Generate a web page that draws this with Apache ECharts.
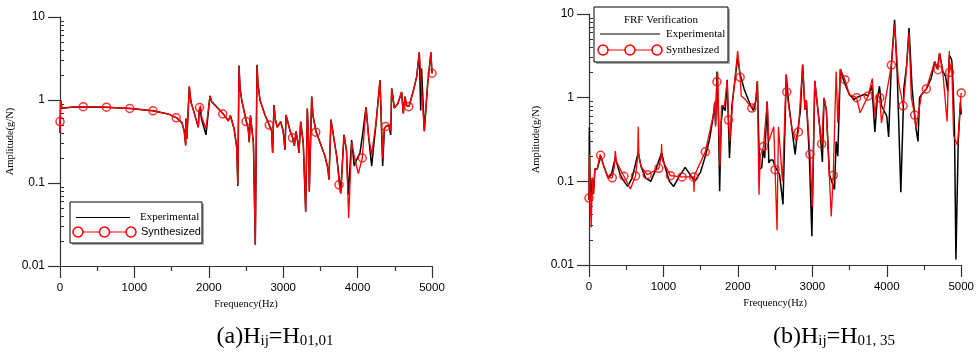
<!DOCTYPE html>
<html><head><meta charset="utf-8">
<script src="https://cdn.jsdelivr.net/npm/echarts@6/dist/echarts.min.js"></script>
<style>html,body{margin:0;padding:0;background:#fff}#c{width:977px;height:354px}</style>
</head><body><div id="c"></div>
<script>
// ---- data (frequency Hz, amplitude g/N) ----
const xTicks = [0, 1000, 2000, 3000, 4000, 5000];
const yTicks = [0.01, 0.1, 1, 10];
const yMinorTicks = [0.02,0.03,0.04,0.05,0.06,0.07,0.08,0.09,0.2,0.3,0.4,0.5,0.6,0.7,0.8,0.9,2,3,4,5,6,7,8,9];

const leftExperimental = [[0,0.40],[8,1.0],[25,0.80],[60,0.80],[150,0.82],[300,0.83],[600,0.82],[950,0.79],[1250,0.74],[1450,0.68],[1570,0.61],[1640,0.53],[1670,0.42],[1689,0.29],[1695,0.60],[1705,0.34],[1738,1.45],[1760,0.95],[1792,0.76],[1830,0.58],[1859,0.47],[1872,0.75],[1885,0.80],[1900,0.60],[1962,0.38],[2016,1.12],[2040,0.95],[2106,0.83],[2195,0.68],[2262,0.56],[2290,0.65],[2340,0.45],[2375,0.27],[2390,0.092],[2406,2.6],[2420,1.4],[2442,1.0],[2500,0.58],[2530,0.45],[2544,0.31],[2560,0.65],[2585,0.40],[2600,0.30],[2625,0.018],[2648,2.65],[2660,1.6],[2688,1.0],[2755,0.66],[2810,0.51],[2845,0.42],[2858,0.23],[2876,0.87],[2895,0.58],[2921,0.47],[2966,0.55],[3000,0.42],[3024,0.25],[3038,0.66],[3091,0.43],[3128,0.35],[3150,0.28],[3172,0.42],[3195,0.32],[3212,0.23],[3235,0.55],[3270,0.30],[3302,0.045],[3324,0.79],[3340,0.35],[3351,0.08],[3383,1.1],[3400,0.65],[3441,0.42],[3500,0.30],[3562,0.21],[3600,0.15],[3615,0.11],[3642,0.58],[3680,0.35],[3719,0.21],[3754,0.11],[3773,0.075],[3817,0.38],[3850,0.25],[3875,0.072],[3920,0.33],[3955,0.16],[3985,0.19],[4032,0.23],[4070,0.40],[4113,0.82],[4150,0.35],[4189,0.16],[4250,0.55],[4301,1.73],[4337,0.16],[4360,0.45],[4380,0.48],[4420,0.50],[4445,0.38],[4458,1.38],[4494,0.80],[4540,0.90],[4592,1.25],[4614,0.69],[4637,1.10],[4660,0.85],[4691,0.84],[4750,1.3],[4794,1.9],[4829,3.75],[4848,0.75],[4860,2.4],[4875,2.4],[4897,0.42],[4940,1.5],[4985,3.75],[5000,2.1]];

const leftSynthesized = [[0,0.40],[8,1.0],[25,0.80],[60,0.80],[150,0.82],[300,0.83],[600,0.82],[950,0.79],[1250,0.74],[1450,0.68],[1570,0.61],[1640,0.53],[1670,0.42],[1689,0.28],[1695,0.60],[1705,0.34],[1738,1.45],[1760,0.95],[1792,0.76],[1830,0.58],[1859,0.47],[1872,0.78],[1890,0.86],[1905,0.62],[1962,0.45],[2016,1.12],[2040,0.95],[2106,0.82],[2195,0.68],[2262,0.56],[2290,0.65],[2340,0.45],[2375,0.27],[2390,0.095],[2406,2.55],[2420,1.4],[2442,1.0],[2500,0.56],[2530,0.45],[2544,0.31],[2560,0.65],[2585,0.40],[2600,0.30],[2625,0.018],[2648,2.6],[2660,1.6],[2688,1.0],[2755,0.66],[2810,0.50],[2845,0.42],[2858,0.23],[2876,0.87],[2895,0.58],[2921,0.47],[2966,0.55],[3000,0.42],[3024,0.25],[3038,0.66],[3091,0.43],[3128,0.35],[3150,0.28],[3172,0.42],[3195,0.32],[3212,0.23],[3235,0.55],[3270,0.30],[3302,0.046],[3324,0.79],[3340,0.35],[3351,0.078],[3383,1.1],[3400,0.65],[3441,0.41],[3500,0.30],[3562,0.21],[3600,0.15],[3615,0.11],[3642,0.58],[3680,0.35],[3719,0.21],[3754,0.095],[3773,0.075],[3817,0.38],[3850,0.25],[3880,0.038],[3920,0.31],[3960,0.2],[4010,0.13],[4063,0.20],[4113,0.82],[4150,0.35],[4189,0.22],[4250,0.55],[4301,1.73],[4337,0.2],[4360,0.45],[4377,0.48],[4420,0.50],[4445,0.42],[4458,1.38],[4494,0.80],[4540,0.90],[4592,1.25],[4614,0.69],[4637,1.10],[4660,0.85],[4691,0.83],[4750,1.3],[4794,1.9],[4829,3.75],[4897,0.42],[4940,1.5],[4985,3.75],[5000,2.1]];

const leftMarkers = [[0,0.55],[312.5,0.83],[625,0.82],[937.5,0.79],[1250,0.74],[1562.5,0.61],[1875,0.81],[2187.5,0.68],[2500,0.55],[2812.5,0.50],[3125,0.35],[3437.5,0.41],[3750,0.095],[4062.5,0.20],[4375,0.48],[4687.5,0.83],[5000,2.1]];

const rightExperimental = [[0,0.06],[5,0.44],[15,0.08],[22,0.06],[44,0.11],[60,0.07],[79,0.14],[110,0.14],[159,0.20],[200,0.15],[256,0.11],[300,0.12],[353,0.19],[420,0.12],[470,0.10],[520,0.087],[580,0.11],[630,0.17],[661,0.22],[700,0.15],[760,0.11],[829,0.10],[900,0.14],[975,0.22],[1020,0.15],[1080,0.10],[1138,0.087],[1200,0.11],[1292,0.147],[1360,0.12],[1420,0.10],[1446,0.10],[1500,0.13],[1570,0.21],[1620,0.32],[1670,0.6],[1689,0.86],[1700,0.47],[1720,2.06],[1740,0.5],[1755,0.076],[1775,0.5],[1799,0.79],[1830,0.7],[1856,1.64],[1887,0.19],[1920,0.8],[1960,1.6],[1997,3.0],[2030,1.9],[2086,1.25],[2174,0.79],[2210,0.70],[2240,0.9],[2262,1.57],[2290,0.14],[2319,0.145],[2341,0.24],[2360,0.19],[2394,0.9],[2416,0.166],[2440,0.18],[2470,0.18],[2500,0.15],[2560,0.12],[2606,0.053],[2650,1.88],[2680,0.9],[2725,0.43],[2769,0.21],[2800,0.38],[2840,0.7],[2870,2.48],[2901,0.72],[2920,0.93],[2960,0.2],[2994,0.022],[3033,1.57],[3099,0.45],[3135,0.17],[3157,0.99],[3188,0.72],[3230,0.12],[3298,0.08],[3320,0.3],[3342,0.2],[3377,2.2],[3420,1.6],[3497,1.09],[3560,0.95],[3594,1.0],[3700,1.1],[3750,1.05],[3800,1.4],[3840,0.39],[3870,0.9],[3902,1.37],[3930,0.8],[4000,0.6],[4025,0.34],[4061,2.4],[4105,8.5],[4140,2.0],[4189,0.074],[4230,1.3],[4268,2.48],[4299,6.8],[4340,1.3],[4392,0.43],[4420,0.3],[4440,1.0],[4467,1.09],[4533,1.27],[4599,1.72],[4643,2.7],[4680,2.2],[4709,3.4],[4752,2.06],[4790,1.8],[4820,1.2],[4841,3.2],[4872,2.84],[4890,1.5],[4910,0.4],[4929,0.0116],[4960,0.3],[4990,0.9],[5000,0.63]];

const rightSynthesized = [[0,0.06],[5,0.21],[18,0.05],[30,0.028],[44,0.11],[60,0.07],[79,0.14],[110,0.14],[150,0.21],[200,0.15],[256,0.11],[312,0.11],[340,0.15],[353,0.23],[370,0.17],[469,0.115],[556,0.081],[625,0.116],[655,0.2],[661,0.45],[670,0.2],[700,0.15],[781,0.12],[938,0.143],[970,0.2],[975,0.28],[985,0.18],[1094,0.117],[1250,0.113],[1406,0.113],[1410,0.075],[1420,0.12],[1562,0.225],[1667,0.6],[1690,0.9],[1700,0.45],[1719,1.55],[1730,2.0],[1745,0.4],[1760,0.15],[1780,0.8],[1820,0.8],[1856,1.6],[1875,0.54],[1890,0.3],[1930,0.9],[1997,3.6],[2031,1.75],[2045,1.05],[2100,0.95],[2188,0.75],[2240,0.9],[2262,1.57],[2284,0.069],[2300,0.2],[2344,0.26],[2394,0.9],[2416,0.3],[2482,0.45],[2500,0.138],[2526,0.026],[2545,0.45],[2575,0.2],[2600,0.1],[2650,1.9],[2656,1.17],[2725,0.43],[2780,0.3],[2812,0.39],[2870,2.5],[2901,0.72],[2920,0.93],[2969,0.21],[3000,0.05],[3033,1.6],[3099,0.45],[3125,0.28],[3157,1.0],[3188,0.72],[3254,0.038],[3281,0.118],[3320,2.06],[3342,0.5],[3377,2.2],[3438,1.64],[3497,1.09],[3594,1.0],[3642,0.66],[3750,1.05],[3806,1.69],[3840,0.6],[3870,1.1],[3906,1.0],[3929,0.5],[4062,2.45],[4105,7.5],[4157,1.57],[4219,0.80],[4250,1.5],[4299,6.0],[4330,1.0],[4375,0.62],[4392,0.43],[4467,1.09],[4531,1.27],[4643,2.7],[4688,2.16],[4709,3.4],[4752,2.06],[4810,0.52],[4841,3.6],[4844,2.0],[4872,2.7],[4898,0.35],[4951,0.27],[5000,1.14]];

const rightMarkers = [[0,0.063],[156.25,0.205],[312.5,0.11],[468.75,0.115],[625,0.116],[781.25,0.12],[937.5,0.143],[1093.75,0.117],[1250,0.113],[1406.25,0.113],[1562.5,0.225],[1718.75,1.55],[1875,0.54],[2031.25,1.75],[2187.5,0.75],[2343.75,0.26],[2500,0.138],[2656.25,1.17],[2812.5,0.39],[2968.75,0.21],[3125,0.28],[3281.25,0.118],[3437.5,1.64],[3593.75,1.0],[3750,1.05],[3906.25,1.0],[4062.5,2.45],[4218.75,0.80],[4375,0.62],[4531.25,1.27],[4687.5,2.16],[4843.75,2.0],[5000,1.14]];

const seriesNames = ['Experimental', 'Synthesized'];
const captionA = ['(a)H', 'ij', '=H', '01,01'];
const captionB = ['(b)H', 'ij', '=H', '01, 35'];

// ---- chart ----
const RED = '#ff0000', AX = '#333';
const SERIF = '"Liberation Serif","DejaVu Serif",serif';
const SANS = '"Liberation Sans",Arial,sans-serif';

function xAxis(gi) {
  return {
    type: 'value', gridIndex: gi, min: 0, max: 5000, interval: 1000,
    name: 'Frequency(Hz)', nameLocation: 'middle', nameGap: 29,
    nameTextStyle: {fontFamily: SERIF, fontSize: 10.5, color: '#000'},
    axisLine: {show: true, lineStyle: {color: AX, width: 1.2}},
    axisTick: {show: true, length: 12, lineStyle: {color: AX, width: 1.2}},
    minorTick: {show: true, splitNumber: 2, length: 5, lineStyle: {color: AX, width: 1.2}},
    axisLabel: {fontFamily: SANS, fontSize: 11.5, color: '#000', margin: 16,
      formatter: v => String(v)},
    splitLine: {show: false}
  };
}
function yAxis(gi, gap) {
  return {
    type: 'log', logBase: 10, gridIndex: gi, min: 0.01, max: 10, position: 'left',
    name: 'Amplitude(g/N)', nameLocation: 'middle', nameGap: gap, nameRotate: 90,
    nameTextStyle: {fontFamily: SERIF, fontSize: 10.5, color: '#000'},
    axisLine: {show: true, lineStyle: {color: AX, width: 1.2}},
    axisTick: {show: true, length: 12, lineStyle: {color: AX, width: 1.2}},
    axisLabel: {fontFamily: SANS, fontSize: 12, color: '#000', margin: 15,
      formatter: v => String(v)},
    splitLine: {show: false}
  };
}
function yMinor(gi) {
  return {
    type: 'log', logBase: 10, gridIndex: gi, min: 0.01, max: 10, position: 'left', offset: 0,
    axisLine: {show: false},
    axisTick: {show: true, inside: true, length: 4, lineStyle: {color: AX, width: 1}, customValues: yMinorTicks},
    axisLabel: {show: false},
    splitLine: {show: false}
  };
}
function caption(parts, cx) {
  return {
    text: '{b|' + parts[0] + '}{s|' + parts[1] + '}{b|' + parts[2] + '}{s|' + parts[3] + '}',
    left: cx, top: 318, textAlign: 'center',
    textStyle: {
      fontWeight: 'normal',
      rich: {
        b: {fontFamily: SERIF, fontSize: 24, fontWeight: 'normal', color: '#000', lineHeight: 26, verticalAlign: 'bottom'},
        s: {fontFamily: SERIF, fontSize: 15, fontWeight: 'normal', color: '#000', lineHeight: 19, verticalAlign: 'bottom'}
      }
    }
  };
}
function lineSeries(name, xi, data, color, w, z) {
  return {name, type: 'line', xAxisIndex: xi, yAxisIndex: xi, data, showSymbol: false,
    symbol: 'none', lineStyle: {color, width: w}, itemStyle: {color}, z, animation: false};
}
function markerSeries(name, xi, data) {
  return {name, type: 'scatter', xAxisIndex: xi, yAxisIndex: xi, data, symbol: 'circle',
    symbolSize: 8, itemStyle: {color: 'rgba(255,255,255,0)', borderColor: RED, borderWidth: 1.5},
    z: 5, animation: false};
}
function legend(x, y, w, h, rows, title) {
  const ch = [];
  ch.push({type: 'rect', shape: {x: x + 2, y: y + 2, width: w, height: h}, style: {fill: '#aaa'}});
  ch.push({type: 'rect', shape: {x, y, width: w, height: h}, style: {fill: '#fff', stroke: '#000', lineWidth: 1}});
  if (title) ch.push({type: 'text', style: {x: title.x, y: title.y, text: title.text, fontFamily: SERIF, fontSize: 11, fill: '#000', align: 'center', verticalAlign: 'middle'}});
  const r0 = rows[0], r1 = rows[1];
  ch.push({type: 'line', shape: {x1: r0.x1, y1: r0.y, x2: r0.x2, y2: r0.y}, style: {stroke: '#000', lineWidth: 1}});
  ch.push({type: 'text', style: {x: r0.tx, y: r0.y, text: seriesNames[0], fontFamily: SERIF, fontSize: 11, fill: '#000', verticalAlign: 'middle'}});
  ch.push({type: 'line', shape: {x1: r1.x1, y1: r1.y, x2: r1.x2, y2: r1.y}, style: {stroke: RED, lineWidth: 1}});
  [r1.x1, (r1.x1 + r1.x2) / 2, r1.x2].forEach(cx => ch.push({type: 'circle', shape: {cx, cy: r1.y, r: 5}, style: {fill: '#fff', stroke: RED, lineWidth: 1.5}}));
  ch.push({type: 'text', style: {x: r1.tx, y: r1.y, text: seriesNames[1], fontFamily: r1.font, fontSize: 11, fill: '#000', verticalAlign: 'middle'}});
  return {type: 'group', children: ch, z: 100};
}

const chart = echarts.init(document.getElementById('c'), null, {renderer: 'canvas'});
chart.setOption({
  backgroundColor: '#fff',
  animation: false,
  title: [caption(captionA, 270), caption(captionB, 829)],
  grid: [
    {left: 60, top: 17, width: 372, height: 249},
    {left: 589, top: 14, width: 378, height: 251}
  ],
  xAxis: [xAxis(0), xAxis(1)],
  yAxis: [yAxis(0, 44), yAxis(1, 47), yMinor(0), yMinor(1)],
  series: [
    lineSeries(seriesNames[0], 0, leftExperimental, '#000', 1.5, 2),
    lineSeries(seriesNames[1], 0, leftSynthesized, RED, 1.3, 3),
    markerSeries(seriesNames[1], 0, leftMarkers),
    lineSeries(seriesNames[0], 1, rightExperimental, '#000', 1.5, 2),
    lineSeries(seriesNames[1], 1, rightSynthesized, RED, 1.3, 3),
    markerSeries(seriesNames[1], 1, rightMarkers)
  ],
  graphic: [
    legend(70, 202, 132, 41, [
      {x1: 76, x2: 130, y: 217.5, tx: 140},
      {x1: 78, x2: 131, y: 232, tx: 141, font: SANS}
    ]),
    legend(594, 7, 134, 55, [
      {x1: 600, x2: 660, y: 34, tx: 666},
      {x1: 603, x2: 657, y: 50, tx: 666, font: SERIF}
    ], {x: 661, y: 20, text: 'FRF Verification'})
  ]
});
</script></body></html>
